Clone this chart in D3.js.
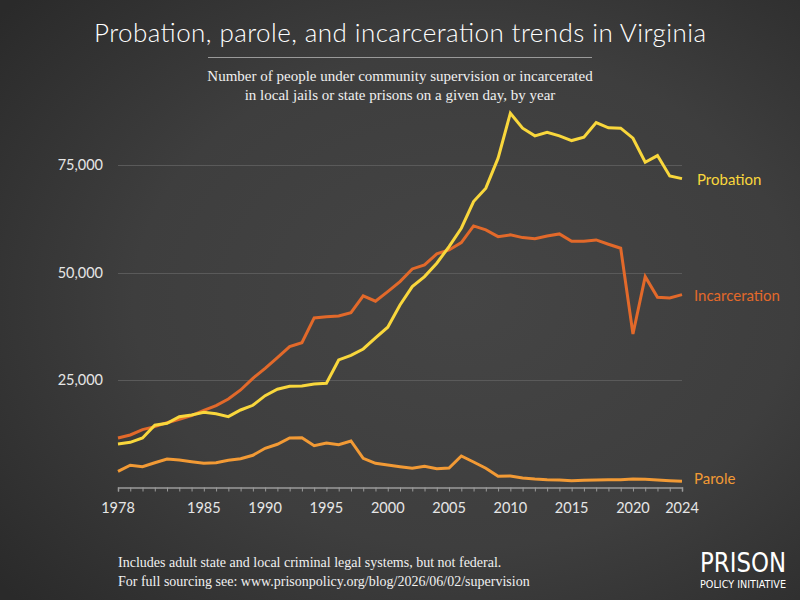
<!DOCTYPE html>
<html>
<head>
<meta charset="utf-8">
<script src="https://cdn.jsdelivr.net/npm/d3@7"></script>
<style>
  html, body { margin: 0; padding: 0; background: #333; }
  svg { display: block; }
</style>
</head>
<body>
<div id="chart"></div>
<script>
// Data
const years = d3.range(1978, 2025);
const probation = [10090, 10480, 11490, 14450, 14900, 16450, 16850, 17470, 17150, 16450,
    18010, 19100, 21340, 22830, 23530, 23600, 24070, 24230, 29660, 30750,
    32220, 34800, 37280, 42480, 46740, 49070, 52190, 56060, 60340, 66550,
    69670, 76660, 87140, 83650, 81850, 82710, 81850, 80760, 81550, 84950,
    83720, 83650, 81310, 75720, 77260, 72530, 71900];
const incarceration = [11490, 12190, 13430, 14120, 15050, 15840, 16690, 17930, 19020, 20570,
    22670, 25390, 27720, 30200, 32760, 33690, 39450, 39750, 39910, 40680,
    44570, 43350, 45580, 47910, 50860, 51800, 54360, 55290, 56990, 60880,
    59950, 58390, 58790, 58160, 57920, 58550, 59020, 57310, 57310, 57620,
    56620, 55690, 35720, 49070, 44270, 44110, 44880];
const parole = [3730, 5130, 4800, 5730, 6590, 6360, 5970, 5590, 5730, 6290,
    6660, 7460, 9090, 10020, 11490, 11560, 9690, 10320, 9930, 10790,
    6760, 5590, 5200, 4800, 4430, 4890, 4330, 4500, 7290, 5900,
    4430, 2560, 2630, 2170, 1930, 1770, 1700, 1540, 1630, 1700,
    1770, 1770, 1930, 1860, 1700, 1540, 1400];
const seriesNames = ["Probation", "Incarceration", "Parole"];
const seriesColors = ["#f9d73c", "#e2692a", "#f29a35"];
const xTickYears = [1978, 1985, 1990, 1995, 2000, 2005, 2010, 2015, 2020, 2024];
const yTickValues = [25000, 50000, 75000];

const W = 800, H = 600;
const margin = {top: 0, right: 118, bottom: 113, left: 118};

const svg = d3.select("#chart").append("svg")
    .attr("width", W)
    .attr("height", H);

// Background
const defs = svg.append("defs");
const grad = defs.append("radialGradient")
    .attr("id", "bg")
    .attr("cx", "58%").attr("cy", "50%").attr("r", "75%");
grad.append("stop").attr("offset", "0%").attr("stop-color", "#454545");
grad.append("stop").attr("offset", "55%").attr("stop-color", "#3e3e3e");
grad.append("stop").attr("offset", "100%").attr("stop-color", "#2a2a2a");
svg.append("rect").attr("width", W).attr("height", H).attr("fill", "url(#bg)");

// Title and subtitle
svg.append("text")
    .attr("x", 400).attr("y", 42)
    .attr("text-anchor", "middle")
    .attr("font-family", "Lato, sans-serif")
    .attr("font-weight", 300)
    .attr("font-size", 26)
    .attr("textLength", 612)
    .attr("lengthAdjust", "spacing")
    .attr("fill", "#ffffff")
    .text("Probation, parole, and incarceration trends in Virginia");

svg.append("line")
    .attr("x1", 208).attr("x2", 592)
    .attr("y1", 57.5).attr("y2", 57.5)
    .attr("stroke", "#9a9a9a").attr("stroke-width", 1);

const subLines = ["Number of people under community supervision or incarcerated",
    "in local jails or state prisons on a given day, by year"];
svg.append("g").selectAll("text")
    .data(subLines)
    .join("text")
    .attr("x", 400)
    .attr("y", (d, i) => 81 + i * 19)
    .attr("text-anchor", "middle")
    .attr("font-family", "'Liberation Serif', serif")
    .attr("font-size", 15)
    .attr("fill", "#f0f0f0")
    .text(d => d);

// Scales
const x = d3.scaleLinear()
    .domain([1978, 2024])
    .range([margin.left, W - margin.right]);
const y = d3.scaleLinear()
    .domain([0, 75000])
    .range([487.3, 165.3]);

// Gridlines
svg.append("g").selectAll("line")
    .data(yTickValues)
    .join("line")
    .attr("x1", x(1978)).attr("x2", x(2024))
    .attr("y1", d => Math.round(y(d)) + 0.5).attr("y2", d => Math.round(y(d)) + 0.5)
    .attr("stroke", "#5a5a5a").attr("stroke-width", 1);

// Y labels
svg.append("g").selectAll("text")
    .data(yTickValues)
    .join("text")
    .attr("x", 103)
    .attr("y", d => y(d) + 5)
    .attr("text-anchor", "end")
    .attr("font-family", "Lato, sans-serif")
    .attr("font-size", 14.5)
    .attr("fill", "#e6e6e6")
    .text(d => d3.format(",")(d));

// X axis
const xAxis = d3.axisBottom(x)
    .tickValues(years)
    .tickSize(4)
    .tickFormat("");
const gx = svg.append("g")
    .attr("transform", `translate(0,${Math.round(y(0)) + 0.5})`)
    .call(xAxis);
gx.select(".domain").attr("stroke", "#9a9a9a").attr("stroke-width", 1.5);
gx.selectAll(".tick line").attr("stroke", "#9a9a9a");

svg.append("g").selectAll("text")
    .data(xTickYears)
    .join("text")
    .attr("x", d => x(d))
    .attr("y", 513)
    .attr("text-anchor", "middle")
    .attr("font-family", "Lato, sans-serif")
    .attr("font-size", 14.5)
    .attr("fill", "#e6e6e6")
    .text(d => d);

// Lines
const seriesData = [probation, incarceration, parole];
const line = d3.line()
    .x((d, i) => x(years[i]))
    .y(d => y(d));

// draw parole first, then incarceration, then probation on top
[2, 1, 0].forEach(k => {
    svg.append("path")
        .datum(seriesData[k])
        .attr("fill", "none")
        .attr("stroke", seriesColors[k])
        .attr("stroke-width", 3)
        .attr("stroke-linejoin", "miter")
        .attr("d", line);
});

// Series labels
const labelY = [180, 296, 479];
const labelX = [697, 694, 694];
svg.append("g").selectAll("text")
    .data(seriesNames)
    .join("text")
    .attr("x", (d, i) => labelX[i])
    .attr("y", (d, i) => labelY[i] + 5)
    .attr("font-family", "Lato, sans-serif")
    .attr("font-size", 15)
    .attr("fill", (d, i) => seriesColors[i])
    .text(d => d);

// Footer
const notes = ["Includes adult state and local criminal legal systems, but not federal.",
    "For full sourcing see: www.prisonpolicy.org/blog/2026/06/02/supervision"];
svg.append("g").selectAll("text")
    .data(notes)
    .join("text")
    .attr("x", 118)
    .attr("y", (d, i) => 567 + i * 19)
    .attr("font-family", "'Liberation Serif', serif")
    .attr("font-size", 14)
    .attr("fill", "#f0f0f0")
    .text(d => d);

// Logo
svg.append("text")
    .attr("x", 743).attr("y", 572)
    .attr("text-anchor", "middle")
    .attr("font-family", "'DejaVu Sans Condensed', 'DejaVu Sans', sans-serif")
    .attr("font-size", 26)
    .attr("textLength", 86)
    .attr("lengthAdjust", "spacingAndGlyphs")
    .attr("fill", "#ffffff")
    .text("PRISON");
svg.append("text")
    .attr("x", 743).attr("y", 588)
    .attr("text-anchor", "middle")
    .attr("font-family", "'DejaVu Sans Condensed', 'DejaVu Sans', sans-serif")
    .attr("font-size", 10)
    .attr("textLength", 86)
    .attr("lengthAdjust", "spacingAndGlyphs")
    .attr("fill", "#ffffff")
    .text("POLICY INITIATIVE");
</script>
</body>
</html>
